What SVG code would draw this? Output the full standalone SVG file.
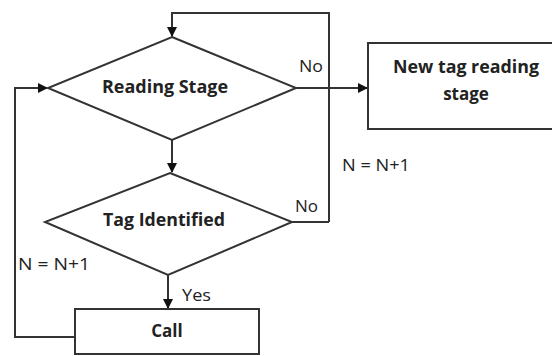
<svg xmlns="http://www.w3.org/2000/svg" width="552" height="356" viewBox="0 0 552 356">
<defs>
<marker id="arr" markerWidth="10" markerHeight="10" refX="9" refY="5" orient="auto" markerUnits="userSpaceOnUse">
<path d="M0,0 L10,5 L0,10 Z" fill="#111"/>
</marker>
<style>
.shape{fill:#fff;stroke:#333;stroke-width:2}
.conn{fill:none;stroke:#333;stroke-width:2}
.lbl{font-family:"Open Sans","Liberation Sans",sans-serif;font-weight:bold;font-size:17px;fill:#222;text-anchor:middle}
.note{font-family:"Open Sans","Liberation Sans",sans-serif;font-size:16px;fill:#222}
</style>
</defs>
<rect width="552" height="356" fill="#fff"/>
<g id="connectors">
<path class="conn" d="M329,222 L329,13 L172,13 L172,36" marker-end="url(#arr)"/>
<path class="conn" d="M296,88 L367,88" marker-end="url(#arr)"/>
<path class="conn" d="M172,140 L172,172" marker-end="url(#arr)"/>
<path class="conn" d="M292,222 L329,222"/>
<path class="conn" d="M168,275 L168,308" marker-end="url(#arr)"/>
<path class="conn" d="M75,337 L15,337 L15,88 L47,88" marker-end="url(#arr)"/>
<text class="note" x="299" y="72" textLength="24" lengthAdjust="spacingAndGlyphs">No</text>
<text class="note" x="342" y="171" textLength="68" lengthAdjust="spacingAndGlyphs">N = N+1</text>
<text class="note" x="295" y="212" textLength="23" lengthAdjust="spacingAndGlyphs">No</text>
<text class="note" x="18" y="270" textLength="72" lengthAdjust="spacingAndGlyphs">N = N+1</text>
<text class="note" x="182" y="301" textLength="29" lengthAdjust="spacingAndGlyphs">Yes</text>
</g>
<g id="reading-stage">
<polygon class="shape" points="172,37 296,88 172,140 48,88"/>
<text class="lbl" x="165" y="93" textLength="126" lengthAdjust="spacingAndGlyphs">Reading Stage</text>
</g>
<g id="new-tag">
<rect class="shape" x="368" y="43" width="200" height="86"/>
<text class="lbl" x="466" y="73" textLength="146" lengthAdjust="spacingAndGlyphs">New tag reading</text>
<text class="lbl" x="466" y="100">stage</text>
</g>
<g id="tag-identified">
<polygon class="shape" points="170,173 292,222 168,275 45,222"/>
<text class="lbl" x="164" y="226" textLength="122" lengthAdjust="spacingAndGlyphs">Tag Identified</text>
</g>
<g id="call">
<rect class="shape" x="75" y="309" width="184" height="45"/>
<text class="lbl" x="167" y="337">Call</text>
</g>
</svg>
